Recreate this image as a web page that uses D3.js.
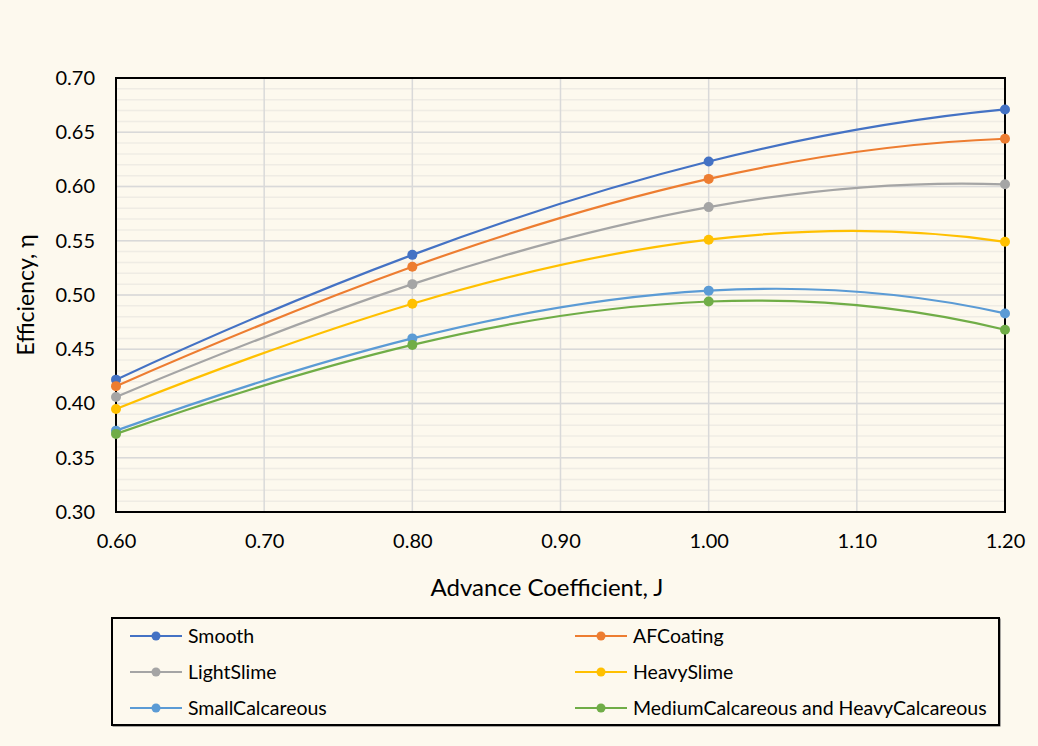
<!DOCTYPE html>
<html>
<head>
<meta charset="utf-8">
<script src="https://cdn.jsdelivr.net/npm/d3@7"></script>
<style>
	body { margin: 0; background: #fdf9ee; }
	svg { display: block; font-family: Lato, "Open Sans", sans-serif; }
</style>
</head>
<body>
<svg id="chart" width="1038" height="746"></svg>
<script>
	var jValues = [0.6, 0.8, 1.0, 1.2],
		seriesNames = ['Smooth', 'AFCoating', 'LightSlime', 'HeavySlime', 'SmallCalcareous', 'MediumCalcareous and HeavyCalcareous'],
		seriesColors = ['#4472c4', '#ed7d31', '#a5a5a5', '#ffc000', '#5b9bd5', '#70ad47'],
		smooth = [0.422, 0.537, 0.623, 0.671],
		afCoating = [0.416, 0.526, 0.607, 0.644],
		lightSlime = [0.406, 0.510, 0.581, 0.602],
		heavySlime = [0.395, 0.492, 0.551, 0.549],
		smallCalc = [0.375, 0.460, 0.504, 0.483],
		mediumCalc = [0.372, 0.454, 0.494, 0.468],
		xTicks = [0.6, 0.7, 0.8, 0.9, 1.0, 1.1, 1.2],
		yTicks = [0.30, 0.35, 0.40, 0.45, 0.50, 0.55, 0.60, 0.65, 0.70];

	(function () {
		'use strict';
		var seriesValues = [smooth, afCoating, lightSlime, heavySlime, smallCalc, mediumCalc],
			svg = d3.select('#chart'),
			pLeft = 116, pRight = 1005, pTop = 78, pBottom = 512,
			x = d3.scaleLinear().domain([0.6, 1.2]).range([pLeft, pRight]),
			y = d3.scaleLinear().domain([0.3, 0.7]).range([pBottom, pTop]),
			g, line, legend, curvePoly;

		// smooth curve: one polynomial through all points, drawn as bezier pieces
		curvePoly = function (context) {
			var xs, ys;
			return {
				areaStart: function () {},
				areaEnd: function () {},
				lineStart: function () { xs = []; ys = []; },
				point: function (px, py) { xs.push(+px); ys.push(+py); },
				lineEnd: function () {
					var n = xs.length, slope, i, h;
					slope = function (j) {
						var s = 0, i2, k, l;
						for (i2 = 0; i2 < n; i2++) {
							if (i2 === j) {
								l = 0;
								for (k = 0; k < n; k++) { if (k !== j) { l += 1 / (xs[j] - xs[k]); } }
							} else {
								l = 1 / (xs[i2] - xs[j]);
								for (k = 0; k < n; k++) {
									if (k !== i2 && k !== j) { l *= (xs[j] - xs[k]) / (xs[i2] - xs[k]); }
								}
							}
							s += ys[i2] * l;
						}
						return s;
					};
					context.moveTo(xs[0], ys[0]);
					for (i = 0; i < n - 1; i++) {
						h = xs[i + 1] - xs[i];
						context.bezierCurveTo(
							xs[i] + h / 3, ys[i] + slope(i) * h / 3,
							xs[i + 1] - h / 3, ys[i + 1] - slope(i + 1) * h / 3,
							xs[i + 1], ys[i + 1]
						);
					}
				}
			};
		};

		svg.append('rect').attr('width', 1038).attr('height', 746).attr('fill', '#fdf9ee');

		// minor gridlines
		g = svg.append('g');
		g.selectAll('line.minor').data(d3.range(30, 71).map(function (d) { return d / 100; }))
			.enter().append('line')
			.attr('x1', pLeft).attr('x2', pRight)
			.attr('y1', function (d) { return y(d); }).attr('y2', function (d) { return y(d); })
			.attr('stroke', '#efece4').attr('stroke-width', 1.5);

		// major gridlines
		g.selectAll('line.hmaj').data(yTicks).enter().append('line')
			.attr('x1', pLeft).attr('x2', pRight)
			.attr('y1', function (d) { return y(d); }).attr('y2', function (d) { return y(d); })
			.attr('stroke', '#d9d9d9').attr('stroke-width', 1.5);
		g.selectAll('line.vmaj').data(xTicks).enter().append('line')
			.attr('y1', pTop).attr('y2', pBottom)
			.attr('x1', function (d) { return x(d); }).attr('x2', function (d) { return x(d); })
			.attr('stroke', '#d9d9d9').attr('stroke-width', 1.5);

		// frame
		svg.append('rect').attr('x', pLeft).attr('y', pTop)
			.attr('width', pRight - pLeft).attr('height', pBottom - pTop)
			.attr('fill', 'none').attr('stroke', '#000').attr('stroke-width', 2);

		// axes
		svg.append('g').attr('transform', 'translate(0,' + pBottom + ')')
			.call(d3.axisBottom(x).tickValues(xTicks).tickSize(0).tickPadding(22).tickFormat(d3.format('.2f')))
			.call(function (a) { a.select('.domain').remove(); })
			.selectAll('text').attr('font-size', 20).attr('fill', '#000').attr('font-family', 'Lato, sans-serif');

		svg.append('g').attr('transform', 'translate(' + pLeft + ',0)')
			.call(d3.axisLeft(y).tickValues(yTicks).tickSize(0).tickPadding(21).tickFormat(d3.format('.2f')))
			.call(function (a) { a.select('.domain').remove(); })
			.selectAll('text').attr('font-size', 20).attr('fill', '#000').attr('font-family', 'Lato, sans-serif');

		svg.append('text').attr('x', 547).attr('y', 596)
			.attr('text-anchor', 'middle').attr('font-size', 24).text('Advance Coefficient, J');
		svg.append('text').attr('transform', 'translate(34,' + ((pTop + pBottom) / 2) + ') rotate(-90)')
			.attr('text-anchor', 'middle').attr('font-size', 23).text('Efficiency, η');

		// series
		line = d3.line()
			.x(function (d, i) { return x(jValues[i]); })
			.y(function (d) { return y(d); })
			.curve(curvePoly);

		seriesValues.forEach(function (vals, s) {
			svg.append('path').attr('d', line(vals))
				.attr('fill', 'none').attr('stroke', seriesColors[s]).attr('stroke-width', 2.2);
			svg.selectAll(null).data(vals).enter().append('circle')
				.attr('cx', function (d, i) { return x(jValues[i]); })
				.attr('cy', function (d) { return y(d); })
				.attr('r', 5).attr('fill', seriesColors[s]);
		});

		// legend
		legend = svg.append('g');
		legend.append('rect').attr('x', 113).attr('y', 619).attr('width', 887).attr('height', 107)
			.attr('fill', 'none').attr('stroke', '#555').attr('stroke-width', 1);
		legend.append('rect').attr('x', 112).attr('y', 618).attr('width', 887).attr('height', 107)
			.attr('fill', '#fdf9ee').attr('stroke', '#000').attr('stroke-width', 2);

		seriesNames.forEach(function (name, s) {
			var col = s % 2, row = Math.floor(s / 2),
				lx = col === 0 ? 130 : 575,
				ly = 636 + row * 36,
				item = legend.append('g');
			item.append('line').attr('x1', lx).attr('x2', lx + 52).attr('y1', ly).attr('y2', ly)
				.attr('stroke', seriesColors[s]).attr('stroke-width', 2.2);
			item.append('circle').attr('cx', lx + 26).attr('cy', ly).attr('r', 4.5).attr('fill', seriesColors[s]);
			item.append('text').attr('x', lx + 58).attr('y', ly + 7).attr('font-size', 19.5).text(name);
		});
	}());
</script>
</body>
</html>
